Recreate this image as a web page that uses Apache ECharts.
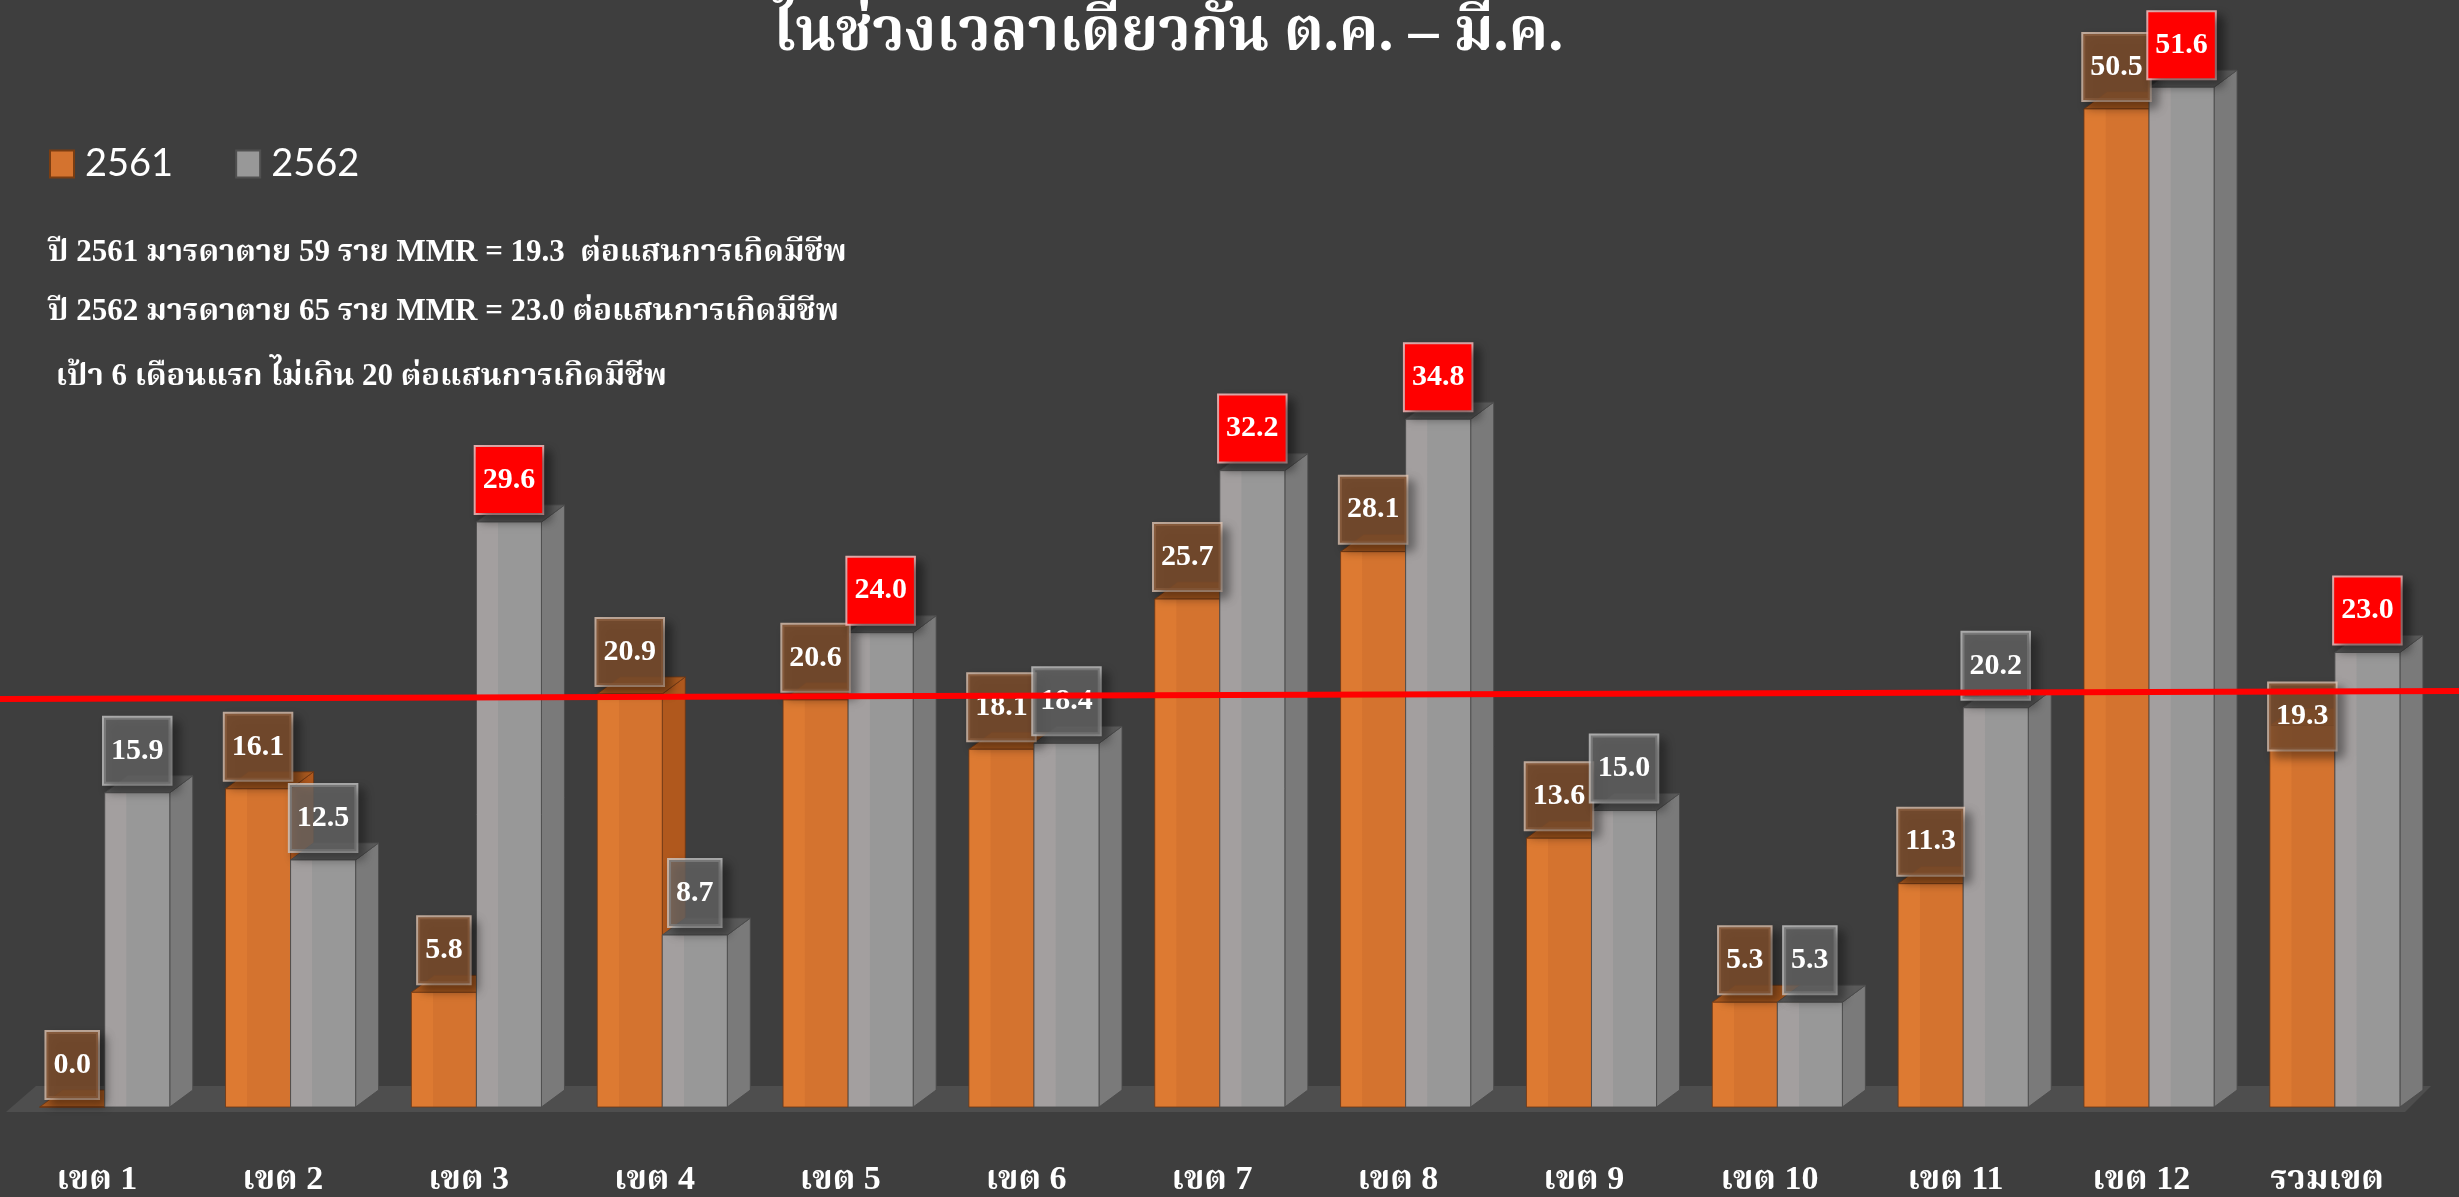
<!DOCTYPE html>
<html><head><meta charset="utf-8">
<script src="https://cdn.jsdelivr.net/npm/echarts@6/dist/echarts.min.js"></script>
<style>html,body{margin:0;padding:0;background:#3e3e3e;}#c{width:2459px;height:1197px;}</style>
</head><body><div id="c"></div>
<script>
const categories = ['เขต 1','เขต 2','เขต 3','เขต 4','เขต 5','เขต 6','เขต 7','เขต 8','เขต 9','เขต 10','เขต 11','เขต 12','รวมเขต'];
const values2561 = [0.0,16.1,5.8,20.9,20.6,18.1,25.7,28.1,13.6,5.3,11.3,50.5,19.3];
const values2562 = [15.9,12.5,29.6,8.7,24.0,18.4,32.2,34.8,15.0,5.3,20.2,51.6,23.0];
const red2562 = [false,false,true,false,true,false,true,true,false,false,false,true,true];
const seriesNames = ['2561','2562'];
const titleText = 'ในช่วงเวลาเดียวกัน ต.ค. – มี.ค.';
const noteLines = [
  'ปี 2561 มารดาตาย 59 ราย MMR = 19.3  ต่อแสนการเกิดมีชีพ',
  'ปี 2562 มารดาตาย 65 ราย MMR = 23.0 ต่อแสนการเกิดมีชีพ',
  ' เป้า 6 เดือนแรก ไม่เกิน 20 ต่อแสนการเกิดมีชีพ'
];
const targetLeft = 20.65;
const targetRight = 21.05;

const SERIF = '"Liberation Serif","Noto Serif Thai","Noto Sans Thai",serif';
const chart = echarts.init(document.getElementById('c'), null, {renderer: 'canvas'});

const BAR_FRAC = 0.35, SHIFT_FRAC = 0.042, DX = 23, DY = 17;
function barGeom(api, which) {
  const i = api.value(0), v = api.value(1);
  const base = api.coord([i, 0]);
  const top = api.coord([i, v]);
  const band = api.size([1, 0])[0];
  const w = band * BAR_FRAC;
  const cx = base[0] + band * SHIFT_FRAC;
  const x0 = which === 0 ? cx - w : cx;
  return {x0: x0, w: w, yb: base[1], yt: top[1]};
}
const palettes = [
  {fl: '#dd7a32', fr: '#d4732f', top: '#a9591f', side: '#b0581d', edge: 'rgba(110,55,20,0.8)'},
  {fl: '#a39f9f', fr: '#989898', top: '#5a5a5a', side: '#7a7a7a', edge: 'rgba(75,75,75,0.9)'}
];
function barRender(which) {
  return function (params, api) {
    const g = barGeom(api, which), p = palettes[which];
    const x0 = g.x0, w = g.w, yb = g.yb, yt = g.yt;
    return {type: 'group', children: [
      {type: 'polygon', shape: {points: [[x0 + w, yt], [x0 + w + DX, yt - DY], [x0 + w + DX, yb - DY], [x0 + w, yb]]},
        style: {fill: p.side, stroke: p.edge, lineWidth: 1}},
      {type: 'polygon', shape: {points: [[x0, yt], [x0 + w, yt], [x0 + w + DX, yt - DY], [x0 + DX, yt - DY]]},
        style: {fill: p.top, stroke: p.edge, lineWidth: 1}},
      {type: 'rect', shape: {x: x0, y: yt, width: w, height: Math.max(0, yb - yt)},
        style: {fill: new echarts.graphic.LinearGradient(0, 0, 1, 0, [
          {offset: 0, color: p.fl}, {offset: 0.33, color: p.fl}, {offset: 0.34, color: p.fr}, {offset: 1, color: p.fr}]),
          stroke: p.edge, lineWidth: 1}}
    ]};
  };
}
function labelRender(which) {
  return function (params, api) {
    const g = barGeom(api, which);
    const i = api.value(0), v = api.value(1);
    const isRed = which === 1 && red2562[i];
    const nudge = (which === 0 && i === categories.length - 1) ? 33 : 0;
    let bg, border;
    if (isRed) { bg = '#ff0000'; border = 'rgba(255,190,190,0.85)'; }
    else if (which === 0) { bg = 'rgba(125,78,45,0.85)'; border = 'rgba(235,205,185,0.75)'; }
    else { bg = 'rgba(105,105,105,0.75)'; border = 'rgba(210,210,210,0.75)'; }
    return {type: 'text', x: g.x0 + g.w / 2, y: g.yt - 9 + nudge,
      style: {text: v.toFixed(1), fill: '#ffffff', font: 'bold 30px ' + SERIF, align: 'center', verticalAlign: 'bottom',
        lineHeight: 30, backgroundColor: bg, borderColor: border, borderWidth: 2, padding: [18, 7],
        shadowBlur: 10, shadowColor: 'rgba(0,0,0,0.45)', shadowOffsetX: 6, shadowOffsetY: 6}};
  };
}
function toData(arr) { return arr.map(function (v, i) { return [i, v]; }); }

const option = {
  backgroundColor: '#3e3e3e',
  animation: false,
  grid: {left: 4, right: 39, top: 20, bottom: 88},
  xAxis: {type: 'category', data: categories, axisLine: {show: false}, axisTick: {show: false}, splitLine: {show: false},
    axisLabel: {color: '#ffffff', fontSize: 34, fontWeight: 'bold', fontFamily: SERIF, margin: 56}},
  yAxis: {type: 'value', min: 0, max: 55, show: false},
  legend: {left: 44, top: 140, icon: 'rect', itemWidth: 24, itemHeight: 27, itemGap: 62,
    data: seriesNames, textStyle: {color: '#ffffff', fontSize: 38, fontFamily: 'Lato', padding: [0, 0, 0, 6]}},
  graphic: [
    {type: 'text', x: 1168, y: 34, style: {text: titleText, fill: '#ffffff', font: 'bold 60px ' + SERIF, align: 'center', verticalAlign: 'middle'}},
    {type: 'text', x: 48, y: 253, style: {text: noteLines[0], fill: '#ffffff', font: 'bold 31px ' + SERIF, verticalAlign: 'middle'}},
    {type: 'text', x: 48, y: 312, style: {text: noteLines[1], fill: '#ffffff', font: 'bold 31px ' + SERIF, verticalAlign: 'middle'}},
    {type: 'text', x: 48, y: 377, style: {text: noteLines[2], fill: '#ffffff', font: 'bold 31px ' + SERIF, verticalAlign: 'middle'}}
  ],
  series: [
    {name: 'floor', type: 'custom', data: [[0, 0]], silent: true, z: 1,
      renderItem: function (params, api) {
        const band = api.size([1, 0])[0];
        const b0 = api.coord([0, 0]), bN = api.coord([categories.length - 1, 0]);
        const left = b0[0] - band / 2 + 2, right = bN[0] + band / 2 - 15;
        const yf = b0[1] + 5, yk = b0[1] - 21;
        return {type: 'polygon', shape: {points: [[left, yf], [right, yf], [right + 26, yk], [left + 30, yk]]},
          style: {fill: '#4e4e4e'}};
      }},
    {name: seriesNames[0], type: 'custom', data: toData(values2561), renderItem: barRender(0), z: 2,
      itemStyle: {color: '#d4732f', borderColor: '#7a3d12', borderWidth: 2}},
    {name: seriesNames[1], type: 'custom', data: toData(values2562), renderItem: barRender(1), z: 2,
      itemStyle: {color: '#989898', borderColor: '#505050', borderWidth: 2}},
    {name: 'lbl2561', type: 'custom', data: toData(values2561), renderItem: labelRender(0), z: 3},
    {name: 'lbl2562', type: 'custom', data: toData(values2562), renderItem: labelRender(1), z: 3},
    {name: 'target', type: 'custom', data: [[0, targetLeft, targetRight]], z: 4, silent: true,
      renderItem: function (params, api) {
        const yL = api.coord([0, targetLeft])[1], yR = api.coord([0, targetRight])[1];
        return {type: 'line', shape: {x1: 0, y1: yL, x2: api.getWidth(), y2: yR}, style: {stroke: '#ff0000', lineWidth: 6}};
      }}
  ]
};
chart.setOption(option);
</script></body></html>
